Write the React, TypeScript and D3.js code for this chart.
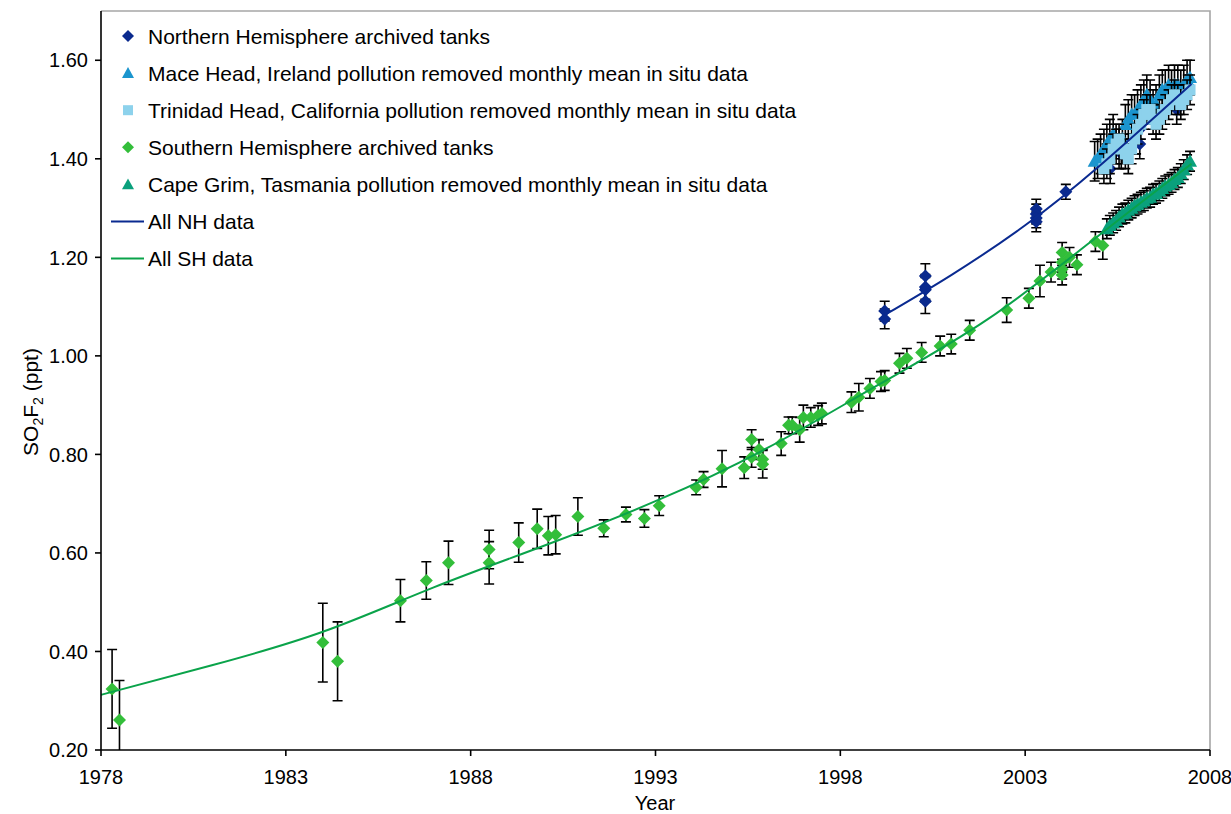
import React from "react";
import * as d3 from "d3";

// ---------- DATA ----------
const xTicks = [1978, 1983, 1988, 1993, 1998, 2003, 2008];
const yTicks = [0.2, 0.4, 0.6, 0.8, 1.0, 1.2, 1.4, 1.6];

// [year, value, error]
const nhTanks: [number, number, number][] = [
  [1999.2, 1.091, 0.02], [1999.2, 1.075, 0.02],
  [2000.3, 1.162, 0.025], [2000.3, 1.14, 0.025], [2000.3, 1.134, 0.025], [2000.3, 1.111, 0.025],
  [2003.3, 1.298, 0.02], [2003.3, 1.288, 0.02], [2003.3, 1.28, 0.02], [2003.3, 1.272, 0.02],
  [2004.1, 1.333, 0.015],
  [2005.2, 1.40, 0.03], [2005.3, 1.38, 0.03], [2005.6, 1.41, 0.03],
  [2006.0, 1.44, 0.03], [2006.1, 1.43, 0.03], [2006.1, 1.46, 0.03],
  [2007.1, 1.50, 0.03], [2007.2, 1.51, 0.02], [2007.4, 1.55, 0.02],
];

const maceHead: [number, number, number][] = [
  [2004.88, 1.395, 0.04], [2004.96, 1.40, 0.04], [2005.04, 1.41, 0.04], [2005.13, 1.42, 0.04],
  [2005.21, 1.43, 0.04], [2005.29, 1.44, 0.04], [2005.38, 1.45, 0.04], [2005.46, 1.43, 0.04],
  [2005.54, 1.42, 0.04], [2005.63, 1.44, 0.04], [2005.71, 1.47, 0.04], [2005.79, 1.48, 0.04],
  [2005.88, 1.49, 0.04], [2005.96, 1.49, 0.04], [2006.04, 1.50, 0.04], [2006.13, 1.51, 0.04],
  [2006.21, 1.52, 0.04], [2006.29, 1.53, 0.04], [2006.38, 1.52, 0.04], [2006.46, 1.50, 0.04],
  [2006.54, 1.51, 0.04], [2006.63, 1.53, 0.04], [2006.71, 1.54, 0.04], [2006.79, 1.54, 0.04],
  [2006.88, 1.55, 0.04], [2006.96, 1.54, 0.04], [2007.04, 1.55, 0.04], [2007.13, 1.55, 0.04],
  [2007.21, 1.54, 0.04], [2007.29, 1.55, 0.04], [2007.38, 1.56, 0.04], [2007.46, 1.565, 0.035],
];

const trinidadHead: [number, number, number][] = [
  [2005.13, 1.38, 0.03], [2005.21, 1.39, 0.03], [2005.29, 1.40, 0.03], [2005.38, 1.42, 0.03],
  [2005.46, 1.43, 0.03], [2005.54, 1.44, 0.03], [2005.63, 1.42, 0.03], [2005.71, 1.41, 0.03],
  [2005.79, 1.40, 0.03], [2005.88, 1.42, 0.03], [2005.96, 1.44, 0.03], [2006.04, 1.46, 0.03],
  [2006.13, 1.47, 0.03], [2006.21, 1.49, 0.03], [2006.29, 1.50, 0.03], [2006.38, 1.50, 0.03],
  [2006.46, 1.48, 0.03], [2006.54, 1.47, 0.03], [2006.63, 1.48, 0.03], [2006.71, 1.49, 0.03],
  [2006.79, 1.50, 0.03], [2006.88, 1.51, 0.03], [2006.96, 1.52, 0.03], [2007.04, 1.53, 0.03],
  [2007.13, 1.52, 0.03], [2007.21, 1.51, 0.03], [2007.29, 1.52, 0.03], [2007.38, 1.53, 0.03],
  [2007.46, 1.54, 0.03],
];

const shTanks: [number, number, number][] = [
  [1978.3, 0.324, 0.08], [1978.5, 0.261, 0.08], [1984.0, 0.418, 0.08], [1984.4, 0.38, 0.08],
  [1986.1, 0.503, 0.043], [1986.8, 0.544, 0.038], [1987.4, 0.58, 0.044], [1988.5, 0.607, 0.039],
  [1988.5, 0.58, 0.043], [1989.3, 0.621, 0.04], [1989.8, 0.649, 0.04], [1990.1, 0.635, 0.039],
  [1990.3, 0.637, 0.039], [1990.9, 0.674, 0.038], [1991.6, 0.65, 0.017], [1992.2, 0.678, 0.015],
  [1992.7, 0.67, 0.018], [1993.1, 0.696, 0.02], [1994.1, 0.733, 0.015], [1994.3, 0.749, 0.016],
  [1994.8, 0.771, 0.037], [1995.4, 0.773, 0.022], [1995.6, 0.794, 0.02], [1995.6, 0.83, 0.02],
  [1995.8, 0.81, 0.02], [1995.9, 0.79, 0.02], [1995.9, 0.78, 0.028], [1996.4, 0.822, 0.024],
  [1996.6, 0.859, 0.017], [1996.7, 0.859, 0.017], [1996.9, 0.85, 0.025], [1997.0, 0.875, 0.025],
  [1997.2, 0.875, 0.02], [1997.4, 0.879, 0.02], [1997.5, 0.883, 0.021], [1998.3, 0.906, 0.021],
  [1998.5, 0.916, 0.028], [1998.8, 0.934, 0.02], [1999.1, 0.948, 0.02], [1999.2, 0.95, 0.02],
  [1999.6, 0.985, 0.02], [1999.8, 0.995, 0.02], [2000.2, 1.007, 0.02], [2000.7, 1.02, 0.02],
  [2001.0, 1.024, 0.02], [2001.5, 1.052, 0.02], [2002.5, 1.093, 0.025], [2003.1, 1.117, 0.02],
  [2003.4, 1.152, 0.032], [2003.7, 1.17, 0.02], [2004.0, 1.21, 0.02], [2004.0, 1.19, 0.02],
  [2004.0, 1.176, 0.02], [2004.0, 1.164, 0.02], [2004.2, 1.2, 0.02], [2004.4, 1.185, 0.02],
  [2004.9, 1.232, 0.02], [2005.1, 1.224, 0.028],
];

const capeGrim: [number, number, number][] = [
  [2005.21, 1.258, 0.02], [2005.29, 1.265, 0.02], [2005.38, 1.27, 0.02], [2005.46, 1.275, 0.02],
  [2005.54, 1.282, 0.02], [2005.63, 1.288, 0.02], [2005.71, 1.29, 0.02], [2005.79, 1.296, 0.02],
  [2005.88, 1.30, 0.02], [2005.96, 1.305, 0.02], [2006.04, 1.308, 0.02], [2006.13, 1.312, 0.02],
  [2006.21, 1.315, 0.02], [2006.29, 1.32, 0.02], [2006.38, 1.322, 0.02], [2006.46, 1.328, 0.02],
  [2006.54, 1.33, 0.02], [2006.63, 1.335, 0.02], [2006.71, 1.34, 0.02], [2006.79, 1.345, 0.02],
  [2006.88, 1.348, 0.02], [2006.96, 1.352, 0.02], [2007.04, 1.358, 0.02], [2007.13, 1.362, 0.02],
  [2007.21, 1.37, 0.02], [2007.29, 1.378, 0.02], [2007.38, 1.388, 0.02], [2007.46, 1.395, 0.02],
];

const nhFit: [number, number][] = [
  [1999.2, 1.083], [2001.0, 1.164], [2003.0, 1.265], [2005.0, 1.385], [2007.5, 1.552],
];

const shFit: [number, number][] = [
  [1978.0, 0.312], [1981.0, 0.372], [1984.0, 0.44], [1987.0, 0.53], [1990.0, 0.615],
  [1993.0, 0.705], [1996.0, 0.812], [1999.0, 0.94], [2002.0, 1.075], [2005.0, 1.245],
  [2007.5, 1.39],
];

const legendLabels = [
  "Northern Hemisphere archived tanks",
  "Mace Head, Ireland pollution removed monthly mean in situ data",
  "Trinidad Head, California pollution removed monthly mean in situ data",
  "Southern Hemisphere archived tanks",
  "Cape Grim, Tasmania pollution removed monthly mean in situ data",
  "All NH data",
  "All SH data",
];

// ---------- STYLE ----------
const C_NH = "#0A2A8E";
const C_MH = "#1B95CE";
const C_TH = "#8DD2EC";
const C_SH = "#33BE3A";
const C_CG = "#0AA07C";
const C_NHL = "#0A2A90";
const C_SHL = "#0AA34A";
const FONT = "'Liberation Sans', Arial, sans-serif";

const W = 1231, H = 814;
const x = d3.scaleLinear().domain([1978, 2008]).range([101, 1210]);
const y = d3.scaleLinear().domain([0.2, 1.7]).range([750, 11]);

type Shape = "diamond" | "triangle" | "square";

function marker(shape: Shape, cx: number, cy: number, color: string, key: string | number, big = true) {
  if (shape === "diamond") {
    const r = big ? 6.5 : 6;
    return <path key={key} d={`M${cx},${cy - r}L${cx + r},${cy}L${cx},${cy + r}L${cx - r},${cy}Z`} fill={color} />;
  }
  if (shape === "triangle") {
    const r = big ? 7 : 6;
    return <path key={key} d={`M${cx},${cy - r}L${cx + r},${cy + r * 0.8}L${cx - r},${cy + r * 0.8}Z`} fill={color} />;
  }
  const s = big ? 5.5 : 5;
  return <rect key={key} x={cx - s} y={cy - s} width={2 * s} height={2 * s} fill={color} />;
}

function errorBars(data: [number, number, number][], key: string) {
  return (
    <g key={key} stroke="#000" strokeWidth={1.6} fill="none">
      {data.map((d, i) => {
        const cx = x(d[0]);
        const y1 = y(d[1] + d[2]);
        const y2 = y(d[1] - d[2]);
        return (
          <path key={i} d={`M${cx},${y1}V${y2}M${cx - 5},${y1}H${cx + 5}M${cx - 5},${y2}H${cx + 5}`} />
        );
      })}
    </g>
  );
}

function series(data: [number, number, number][], shape: Shape, color: string, key: string) {
  return (
    <g key={key}>
      {errorBars(data, key + "-err")}
      {data.map((d, i) => marker(shape, x(d[0]), y(d[1]), color, i))}
    </g>
  );
}

export default function App() {
  const line = d3
    .line<[number, number]>()
    .x((d) => x(d[0]))
    .y((d) => y(d[1]))
    .curve(d3.curveNatural);

  const legendY = (i: number) => 36 + i * 37.1;

  return (
    <svg width={W} height={H} style={{ position: "absolute", left: 0, top: 0, background: "#fff" }} fontFamily={FONT}>
      <defs>
        <clipPath id="plot">
          <rect x={101} y={11} width={1109} height={739} />
        </clipPath>
      </defs>
      <rect width={W} height={H} fill="#fff" />

      {/* frame top/right */}
      <path d={`M101,11H1210V750`} stroke="#A6A6A6" strokeWidth={1.6} fill="none" />

      <g clipPath="url(#plot)">
        {series(nhTanks, "diamond", C_NH, "nh")}
        {series(maceHead, "triangle", C_MH, "mh")}
        {series(trinidadHead, "square", C_TH, "th")}
        {series(shTanks, "diamond", C_SH, "sh")}
        {series(capeGrim, "triangle", C_CG, "cg")}
        <path d={line(nhFit) || ""} stroke={C_NHL} strokeWidth={2} fill="none" />
        <path d={line(shFit) || ""} stroke={C_SHL} strokeWidth={2} fill="none" />
      </g>

      {/* axes */}
      <g stroke="#000" strokeWidth={1.6}>
        <line x1={101} y1={11} x2={101} y2={750} />
        <line x1={101} y1={750} x2={1210} y2={750} />
        {yTicks.map((t) => (
          <line key={t} x1={95} x2={101} y1={y(t)} y2={y(t)} />
        ))}
        {xTicks.map((t) => (
          <line key={t} x1={x(t)} x2={x(t)} y1={750} y2={756} />
        ))}
      </g>
      <g fontSize={20} fill="#000">
        {yTicks.map((t) => (
          <text key={t} x={88} y={y(t)} dy="0.36em" textAnchor="end">
            {t.toFixed(2)}
          </text>
        ))}
        {xTicks.map((t) => (
          <text key={t} x={x(t)} y={784} textAnchor="middle">
            {t}
          </text>
        ))}
      </g>
      <text x={655} y={810} fontSize={20} textAnchor="middle">
        Year
      </text>
      <text transform="translate(38,402) rotate(-90)" fontSize={21} textAnchor="middle">
        SO<tspan fontSize={14} dy={5}>2</tspan>
        <tspan dy={-5}>F</tspan>
        <tspan fontSize={14} dy={5}>2</tspan>
        <tspan dy={-5}> (ppt)</tspan>
      </text>

      {/* legend */}
      <g fontSize={21}>
        {marker("diamond", 128, legendY(0), C_NH, "l0", false)}
        {marker("triangle", 128, legendY(1), C_MH, "l1", false)}
        {marker("square", 128, legendY(2), C_TH, "l2", false)}
        {marker("diamond", 128, legendY(3), C_SH, "l3", false)}
        {marker("triangle", 128, legendY(4), C_CG, "l4", false)}
        <line x1={111} x2={144} y1={legendY(5)} y2={legendY(5)} stroke={C_NHL} strokeWidth={2} />
        <line x1={111} x2={144} y1={legendY(6)} y2={legendY(6)} stroke={C_SHL} strokeWidth={2} />
        {legendLabels.map((l, i) => (
          <text key={i} x={148} y={legendY(i)} dy="0.36em" fill="#000">
            {l}
          </text>
        ))}
      </g>
    </svg>
  );
}
